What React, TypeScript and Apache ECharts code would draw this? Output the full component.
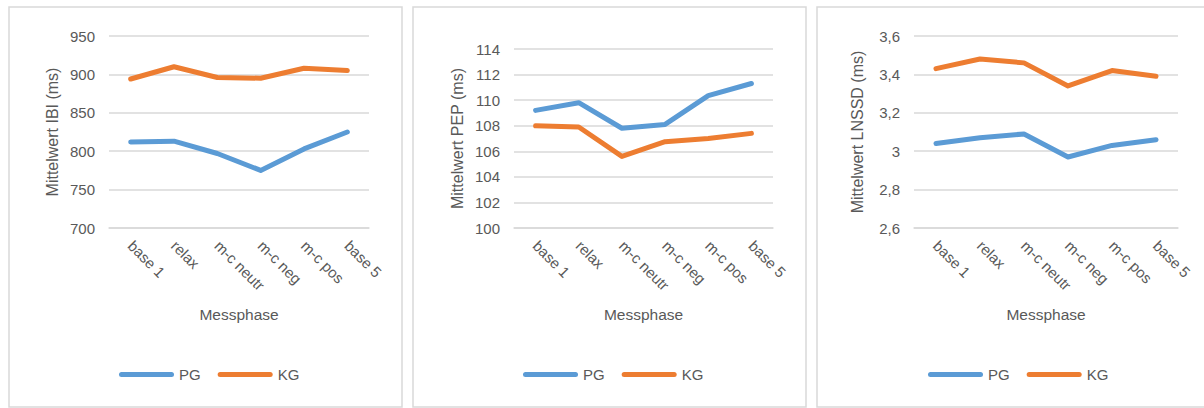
import React, { useEffect, useRef } from "react";
import * as echarts from "echarts";

// Measurement phases on the category axis
const phases = ["base 1", "relax", "m-c neutr", "m-c neg", "m-c pos", "base 5"];

// Mean inter-beat interval (ms)
const ibiPG = [812, 813, 797, 775, 803, 825];
const ibiKG = [894, 910, 896, 895, 908, 905];

// Mean pre-ejection period (ms)
const pepPG = [109.2, 109.8, 107.8, 108.1, 110.35, 111.3];
const pepKG = [108.0, 107.9, 105.6, 106.75, 107.0, 107.4];

// Mean LNSSD (ms)
const lnssdPG = [3.04, 3.07, 3.09, 2.97, 3.03, 3.06];
const lnssdKG = [3.43, 3.48, 3.46, 3.34, 3.42, 3.39];

// Group names
const groups = ["PG", "KG"];

const BLUE = "#5B9BD5";
const ORANGE = "#ED7D31";
const TEXT = "#595959";
const GRIDLINE = "#D9D9D9";
const FONT = "'Liberation Sans', Arial, sans-serif";

const germanNumber = (v: number) =>
  String(Number(v.toFixed(2))).replace(".", ",");

export default function App() {
  const ref = useRef<HTMLDivElement>(null);

  useEffect(() => {
    if (!ref.current) return;
    const chart = echarts.init(ref.current, undefined, { renderer: "svg" });

    const grids = [
      { left: 109, right: 835, top: 36, bottom: 180 },
      { left: 514, right: 431, top: 49, bottom: 180 },
      { left: 914, right: 26, top: 36, bottom: 180 },
    ];

    const yDefs = [
      { name: "Mittelwert IBI (ms)", min: 700, max: 950, interval: 50 },
      { name: "Mittelwert PEP (ms)", min: 100, max: 114, interval: 2 },
      { name: "Mittelwert LNSSD (ms)", min: 2.6, max: 3.6, interval: 0.2 },
    ];

    const seriesData = [
      [ibiPG, ibiKG],
      [pepPG, pepKG],
      [lnssdPG, lnssdKG],
    ];

    const legendLefts = [119, 523, 928];
    const panels = [
      { x: 9, width: 393 },
      { x: 413, width: 393 },
      { x: 817, width: 400 },
    ];

    const legendIcon =
      "path://M2.5,0H52.5A2.5,2.5,0,0,1,52.5,5H2.5A2.5,2.5,0,0,1,2.5,0Z";

    chart.setOption({
      animation: false,
      backgroundColor: "#FFFFFF",
      textStyle: { fontFamily: FONT, color: TEXT },
      graphic: panels.map((p) => ({
        type: "rect",
        shape: { x: p.x, y: 7, width: p.width, height: 400 },
        style: { fill: "none", stroke: GRIDLINE, lineWidth: 1.5 },
        silent: true,
      })),
      grid: grids.map((g) => ({ ...g, containLabel: false })),
      legend: legendLefts.map((left) => ({
        data: groups,
        left,
        top: 367,
        orient: "horizontal",
        icon: legendIcon,
        itemWidth: 55,
        itemHeight: 5,
        itemGap: 17,
        textStyle: { fontFamily: FONT, fontSize: 15, color: TEXT },
        padding: 0,
      })),
      xAxis: grids.map((_, i) => ({
        type: "category",
        gridIndex: i,
        data: phases,
        boundaryGap: true,
        name: "Messphase",
        nameLocation: "middle",
        nameGap: 78,
        nameTextStyle: { fontFamily: FONT, fontSize: 15.5, color: TEXT },
        axisLine: { show: true, lineStyle: { color: GRIDLINE, width: 1.5 } },
        axisTick: { show: false },
        axisLabel: {
          rotate: -45,
          margin: 15,
          interval: 0,
          fontFamily: FONT,
          fontSize: 15,
          color: TEXT,
        },
      })),
      yAxis: yDefs.map((d, i) => ({
        type: "value",
        gridIndex: i,
        min: d.min,
        max: d.max,
        interval: d.interval,
        name: d.name,
        nameLocation: "middle",
        nameGap: 49,
        nameTextStyle: { fontFamily: FONT, fontSize: 16, color: TEXT },
        axisLine: { show: false },
        axisTick: { show: false },
        splitLine: { lineStyle: { color: GRIDLINE, width: 1.5 } },
        axisLabel: {
          margin: 14,
          fontFamily: FONT,
          fontSize: 15,
          color: TEXT,
          formatter: (v: number) => germanNumber(v),
        },
      })),
      series: seriesData.flatMap((pair, i) =>
        pair.map((data, j) => ({
          type: "line",
          name: groups[j],
          xAxisIndex: i,
          yAxisIndex: i,
          data,
          symbol: "none",
          color: j === 0 ? BLUE : ORANGE,
          lineStyle: {
            width: 5,
            color: j === 0 ? BLUE : ORANGE,
            cap: "round",
            join: "round",
          },
        }))
      ),
    });

    return () => chart.dispose();
  }, []);

  return (
    <div
      ref={ref}
      style={{ position: "fixed", left: 0, top: 0, width: 1204, height: 408 }}
    />
  );
}
